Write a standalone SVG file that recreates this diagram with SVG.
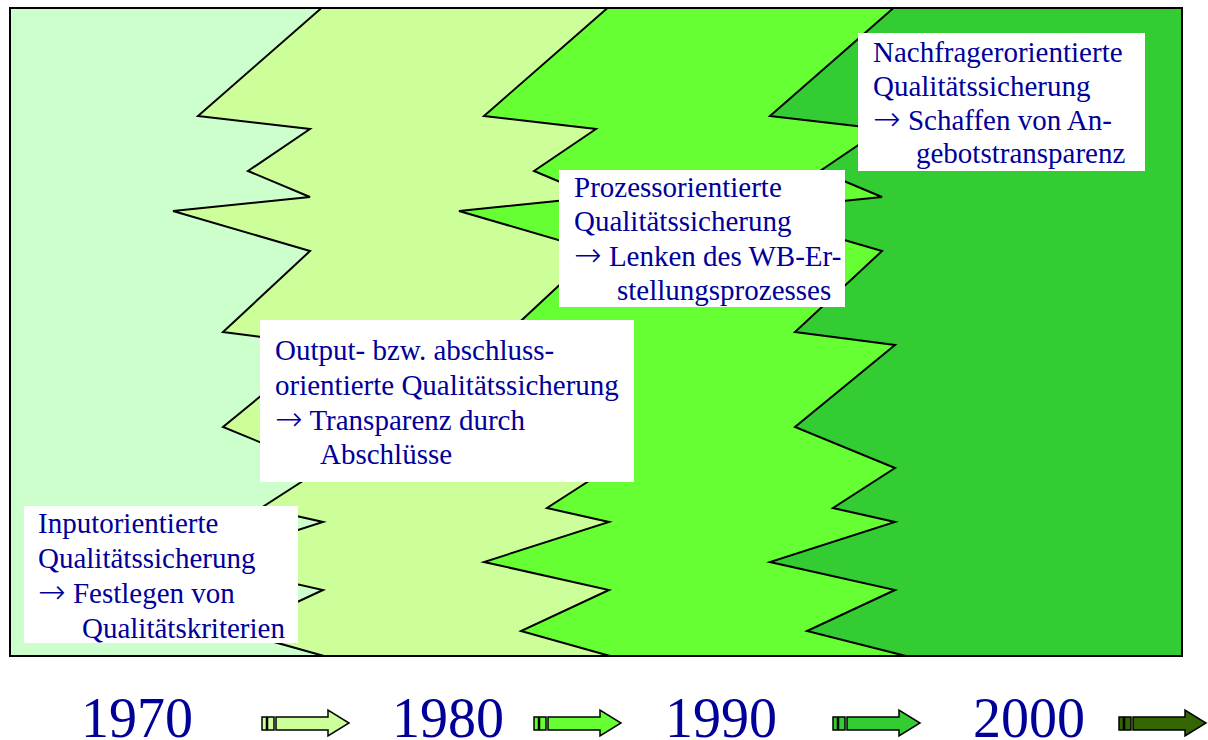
<svg xmlns="http://www.w3.org/2000/svg" width="1208" height="740" viewBox="0 0 1208 740">
<style>
.zig{fill:none;stroke:#000;stroke-width:2;stroke-linejoin:miter}
.box{fill:#fff}
.t{font-family:"Liberation Serif","Times New Roman",serif;font-size:29px;fill:#000099}
.ar{font-family:"DejaVu Sans",sans-serif;font-weight:200;font-size:33px}
.yr{font-family:"Liberation Serif","Times New Roman",serif;font-size:56px;fill:#000099}
.arr{stroke:#000;stroke-width:1.5;stroke-linejoin:miter}
</style>
<defs>
<g id="arrowShape">
<rect x="262" y="717" width="4.5" height="13"/>
<rect x="267.5" y="717" width="6.5" height="13"/>
<polygon points="276,717 328,717 328,710 349,723 328,736 328,730 276,730"/>
</g>
</defs>
<g id="background">
<rect x="10" y="8" width="1172" height="648" fill="#CCFFCC"/>
<polygon fill="#CCFF99" points="321.5,8 198,116 310,129 248,171 310,197 173,211 310,251 223,332 323,345 223,427 323,468 261,508 323,522 198,562 323,590 235,631 324,656 1182,656 1182,8"/>
<polygon fill="#66FF33" transform="translate(286,0)" points="321.5,8 198,116 310,129 248,171 310,197 173,211 310,251 223,332 323,345 223,427 323,468 261,508 323,522 198,562 323,590 235,631 324,656 896,656 896,8"/>
<polygon fill="#33CC33" points="893.5,8 770,116 882,129 820,171 882,197 745,211 882,251 795,332 895,345 795,427 895,468 833,508 895,522 770,562 895,590 807,631 906,656 1182,656 1182,8"/>
</g>
<g id="connectors">
<polyline class="zig" points="321.5,8 198,116 310,129 248,171 310,197 173,211 310,251 223,332 323,345 223,427 323,468 261,508 323,522 198,562 323,590 235,631 324,656"/>
<polyline class="zig" transform="translate(286,0)" points="321.5,8 198,116 310,129 248,171 310,197 173,211 310,251 223,332 323,345 223,427 323,468 261,508 323,522 198,562 323,590 235,631 324,656"/>
<polyline class="zig" points="893.5,8 770,116 882,129 820,171 882,197 745,211 882,251 795,332 895,345 795,427 895,468 833,508 895,522 770,562 895,590 807,631 906,656"/>
<rect x="10" y="8" width="1172" height="648" fill="none" stroke="#000" stroke-width="2"/>
</g>
<g id="node-nachfrage">
<rect class="box" x="858" y="33" width="287" height="138"/>
<text class="t" x="873" y="62">Nachfragerorientierte</text>
<text class="t" x="873" y="96">Qualitätssicherung</text>
<text class="t" x="873" y="130"><tspan class="ar">→</tspan> Schaffen von An-</text>
<text class="t" x="916" y="163">gebotstransparenz</text>
</g>
<g id="node-prozess">
<rect class="box" x="559" y="170" width="286" height="137"/>
<text class="t" x="574" y="197">Prozessorientierte</text>
<text class="t" x="574" y="231">Qualitätssicherung</text>
<text class="t" x="574" y="266"><tspan class="ar">→</tspan> Lenken des WB-Er-</text>
<text class="t" x="617" y="300">stellungsprozesses</text>
</g>
<g id="node-output">
<rect class="box" x="260" y="320" width="374" height="162"/>
<text class="t" x="275" y="360">Output- bzw. abschluss-</text>
<text class="t" x="275" y="395">orientierte Qualitätssicherung</text>
<text class="t" x="275" y="430"><tspan class="ar">→</tspan> Transparenz durch</text>
<text class="t" x="320" y="464">Abschlüsse</text>
</g>
<g id="node-input">
<rect class="box" x="24" y="506" width="274" height="137"/>
<text class="t" x="38" y="533">Inputorientierte</text>
<text class="t" x="38" y="568">Qualitätssicherung</text>
<text class="t" x="38" y="603"><tspan class="ar">→</tspan> Festlegen von</text>
<text class="t" x="82" y="638">Qualitätskriterien</text>
</g>
<g id="timeline">
<text class="yr" x="81" y="737">1970</text>
<text class="yr" x="392" y="737">1980</text>
<text class="yr" x="665" y="737">1990</text>
<text class="yr" x="973" y="737">2000</text>
<use href="#arrowShape" class="arr" fill="#CCFF99"/>
<use href="#arrowShape" class="arr" fill="#66FF33" transform="translate(272,0)"/>
<use href="#arrowShape" class="arr" fill="#33CC33" transform="translate(571,0)"/>
<use href="#arrowShape" class="arr" fill="#336600" transform="translate(857,0)"/>
</g>
</svg>
